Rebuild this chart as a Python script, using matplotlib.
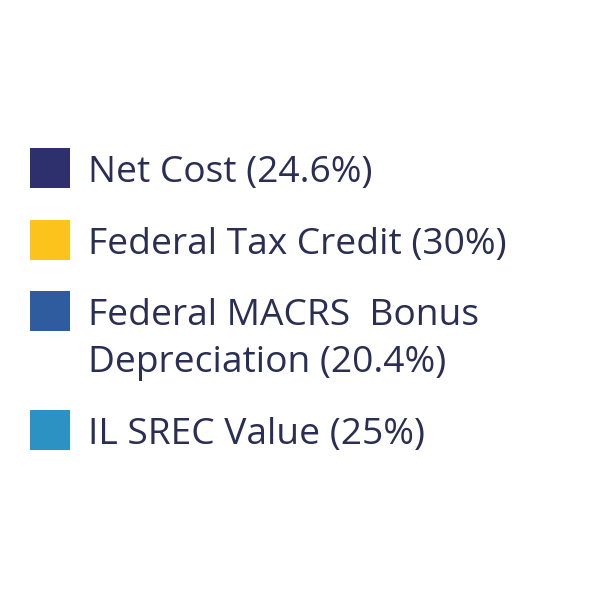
import matplotlib
matplotlib.use("Agg")
import matplotlib.pyplot as plt
from matplotlib.patches import Rectangle

categories = ["Net Cost (24.6%)", "Federal Tax Credit (30%)",
              "Federal MACRS  Bonus\nDepreciation (20.4%)", "IL SREC Value (25%)"]
colors = ["#2d306d", "#fbc31c", "#2f5c9f", "#2b92c3"]
row_centers_px = [168, 240, 311, 430]

W = H = 600
fig = plt.figure(figsize=(6, 6), dpi=100)
fig.patch.set_facecolor("white")
text_color = "#2a2e55"

def fy(px):
    return 1 - px / H

for label, col, cy in zip(categories, colors, row_centers_px):
    fig.patches.append(Rectangle((30 / W, fy(cy + 20)), 40 / W, 40 / H,
                                 transform=fig.transFigure, facecolor=col, edgecolor="none"))
    for i, line in enumerate(label.split("\n")):
        base = cy + 14 + 47 * i
        fig.text(88 / W, fy(base), line, fontsize=26.7, family=["Open Sans", "DejaVu Sans"],
                 color=text_color, va="baseline", ha="left")

fig.savefig("out.png", dpi=100)
